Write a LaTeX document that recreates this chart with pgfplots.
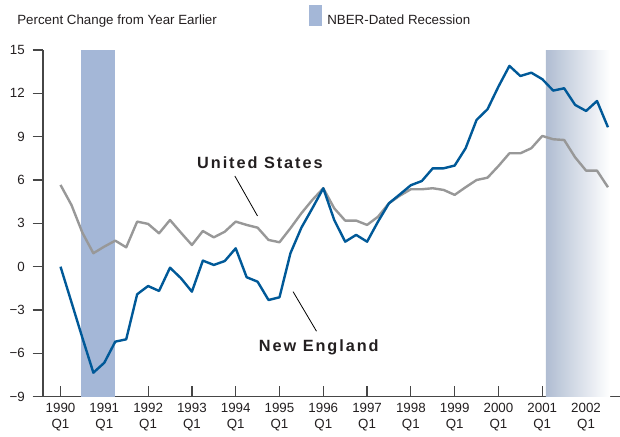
\documentclass[border=0pt]{standalone}
\usepackage{fontspec}
\setmainfont{Liberation Sans}
\newfontfamily\lblfont{Liberation Sans}[LetterSpace=12]
\usepackage{pgfplots}
\usepackage{pgfplotstable}
\pgfplotsset{compat=1.18}

\definecolor{neblue}{RGB}{0,89,152}
\definecolor{usgray}{RGB}{152,152,152}
\definecolor{rec}{RGB}{164,183,215}
\definecolor{rectwo}{RGB}{176,189,210}
\definecolor{axisc}{RGB}{70,70,70}
\definecolor{txt}{RGB}{35,31,32}

% quarter index k: 0 = 1990 Q1
\pgfplotstableread{
k us
0 5.66
1 4.27
2 2.35
3 0.93
4 1.39
5 1.80
6 1.34
7 3.12
8 2.96
9 2.31
10 3.23
11 2.35
12 1.50
13 2.47
14 2.03
15 2.42
16 3.12
17 2.89
18 2.70
19 1.85
20 1.69
21 2.66
22 3.70
23 4.62
24 5.43
25 4.04
26 3.19
27 3.19
28 2.89
29 3.46
30 4.39
31 4.92
32 5.36
33 5.36
34 5.43
35 5.31
36 4.97
37 5.50
38 6.00
39 6.16
40 6.97
41 7.85
42 7.85
43 8.20
44 9.05
45 8.82
46 8.77
47 7.57
48 6.65
49 6.65
50 5.50
}\ustable

\pgfplotstableread{
k ne
0 0.00
1 -2.46
2 -4.93
3 -7.34
4 -6.65
5 -5.19
6 -5.03
7 -1.91
8 -1.34
9 -1.68
10 -0.07
11 -0.80
12 -1.73
13 0.42
14 0.12
15 0.39
16 1.27
17 -0.73
18 -1.04
19 -2.31
20 -2.12
21 0.93
22 2.70
23 4.04
24 5.43
25 3.23
26 1.73
27 2.20
28 1.73
29 3.12
30 4.39
31 5.01
32 5.64
33 5.93
34 6.81
35 6.81
36 7.00
37 8.20
38 10.16
39 10.90
40 12.47
41 13.90
42 13.20
43 13.43
44 12.98
45 12.19
46 12.35
47 11.20
48 10.78
49 11.47
50 9.65
}\netable

\begin{document}
\begin{tikzpicture}
\useasboundingbox (-32.25pt,-29.5pt) rectangle (432.75pt,297.5pt);
\begin{axis}[
  at={(0pt,0pt)}, anchor=south west,
  width=432.75pt, height=260pt, scale only axis,
  xmin=-1.6, xmax=51.1, ymin=-9, ymax=15,
  axis x line=bottom, axis y line=left,
  axis line style={-, draw=axisc, line width=0.9pt},
  tick style={draw=axisc, line width=0.9pt},
  major tick length=7.8pt, tick align=inside,
  ytick style={xshift=-7.8pt},
  xtick={0,4,...,48},
  xticklabels={{1990\\Q1},{1991\\Q1},{1992\\Q1},{1993\\Q1},{1994\\Q1},{1995\\Q1},{1996\\Q1},{1997\\Q1},{1998\\Q1},{1999\\Q1},{2000\\Q1},{2001\\Q1},{2002\\Q1}},
  xticklabel style={align=center, font=\fontsize{10}{12}\selectfont, text=txt, inner sep=0pt, yshift=-5pt},
  ytick={-9,-6,...,15},
  yticklabels={−9,−6,−3,0,3,6,9,12,15},
  yticklabel style={anchor=east, font=\fontsize{10}{12}\selectfont, text=txt, inner sep=0pt, xshift=-13.5pt},
  minor tick num=0,
]
\addplot[draw=none, fill=rec, forget plot] coordinates {(1.854,-9) (1.854,15) (4.96,15) (4.96,-9)} -- cycle;
\addplot[draw=none, left color=rectwo, right color=white, forget plot] coordinates {(44.32,-9) (44.32,15) (50.2,15) (50.2,-9)} -- cycle;
\addplot[usgray, line width=1.8pt, line join=round, no marks] table[x=k, y=us] {\ustable};
\addplot[neblue, line width=1.8pt, line join=round, no marks] table[x=k, y=ne] {\netable};
\draw[line width=0.6pt, black] (axis cs:15.92,6.28) -- (axis cs:17.99,3.51);
\draw[line width=0.6pt, black] (axis cs:21.24,-1.73) -- (axis cs:23.38,-4.47);
\node[anchor=base, inner sep=0pt, text=txt, font=\lblfont\bfseries\fontsize{12.2}{14}\selectfont] at (axis cs:18.21,6.77) {United States};
\node[anchor=base, inner sep=0pt, text=txt, font=\lblfont\bfseries\fontsize{12.2}{14}\selectfont] at (axis cs:23.59,-5.89) {New England};
\end{axis}
\fill[rec] (199.5pt,293.8pt) rectangle (209.25pt,278pt);
\node[anchor=base west, inner sep=0pt, text=txt, font=\fontsize{10}{12}\selectfont] at (213pt,279.2pt) {NBER-Dated Recession};
\node[anchor=base west, inner sep=0pt, text=txt, font=\fontsize{10}{12}\selectfont] at (-19.5pt,278.8pt) {Percent Change from Year Earlier};
\end{tikzpicture}
\end{document}
